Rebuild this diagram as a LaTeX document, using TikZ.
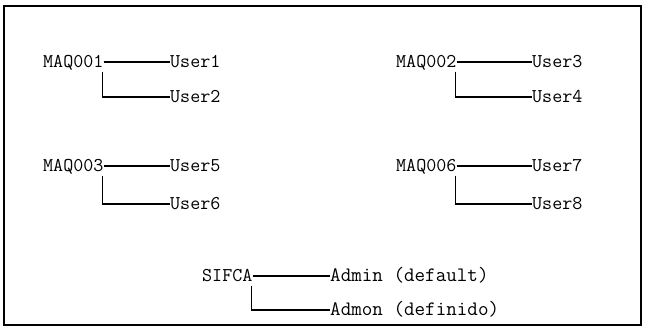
\documentclass[tikz,border=0pt]{standalone}
\usepackage{fontspec}
\begin{document}
\begin{tikzpicture}[x=1pt,y=-1pt,
  lbl/.style={anchor=west,inner sep=0pt,text height=11pt,text depth=0pt,
    font=\fontsize{19.5}{21}\selectfont\ttfamily\addfontfeature{FakeBold=0.6}},
  wide/.style={lbl,font=\fontsize{20.5}{22}\selectfont\ttfamily\addfontfeature{FakeBold=0.6}},
  conn/.style={line width=1.1pt},
  frame/.style={line width=1.8pt}]
\useasboundingbox (0,0) rectangle (648,328);
\draw[frame] (4,6) rectangle (641,325);
% group 1
\node[lbl] (m1) at (43,62) {MAQ001};
\node[lbl] (u1) at (170,62) {User1};
\node[lbl] (u2) at (170,97) {User2};
% group 2
\node[lbl] (m2) at (396,62) {MAQ002};
\node[lbl] (u3) at (532,62) {User3};
\node[lbl] (u4) at (532,97) {User4};
% group 3
\node[lbl] (m3) at (43,166) {MAQ003};
\node[lbl] (u5) at (170,166) {User5};
\node[lbl] (u6) at (170,204) {User6};
% group 4
\node[lbl] (m4) at (396,166) {MAQ006};
\node[lbl] (u7) at (532,166) {User7};
\node[lbl] (u8) at (532,204) {User8};
% SIFCA
\node[lbl] (s) at (202,276) {SIFCA};
\node[wide] (a1) at (330,276) {Admin (default)};
\node[wide] (a2) at (330,310) {Admon (definido)};
% connectors
\foreach \p/\c/\d in {m1/u1/u2,m2/u3/u4,m3/u5/u6,m4/u7/u8,s/a1/a2}{
  \draw[conn] (\p.east) -- (\c.west);
  \draw[conn] ([xshift=-1pt,yshift=-4pt]\p.south east) |- (\d.west);
}
\end{tikzpicture}
\end{document}
